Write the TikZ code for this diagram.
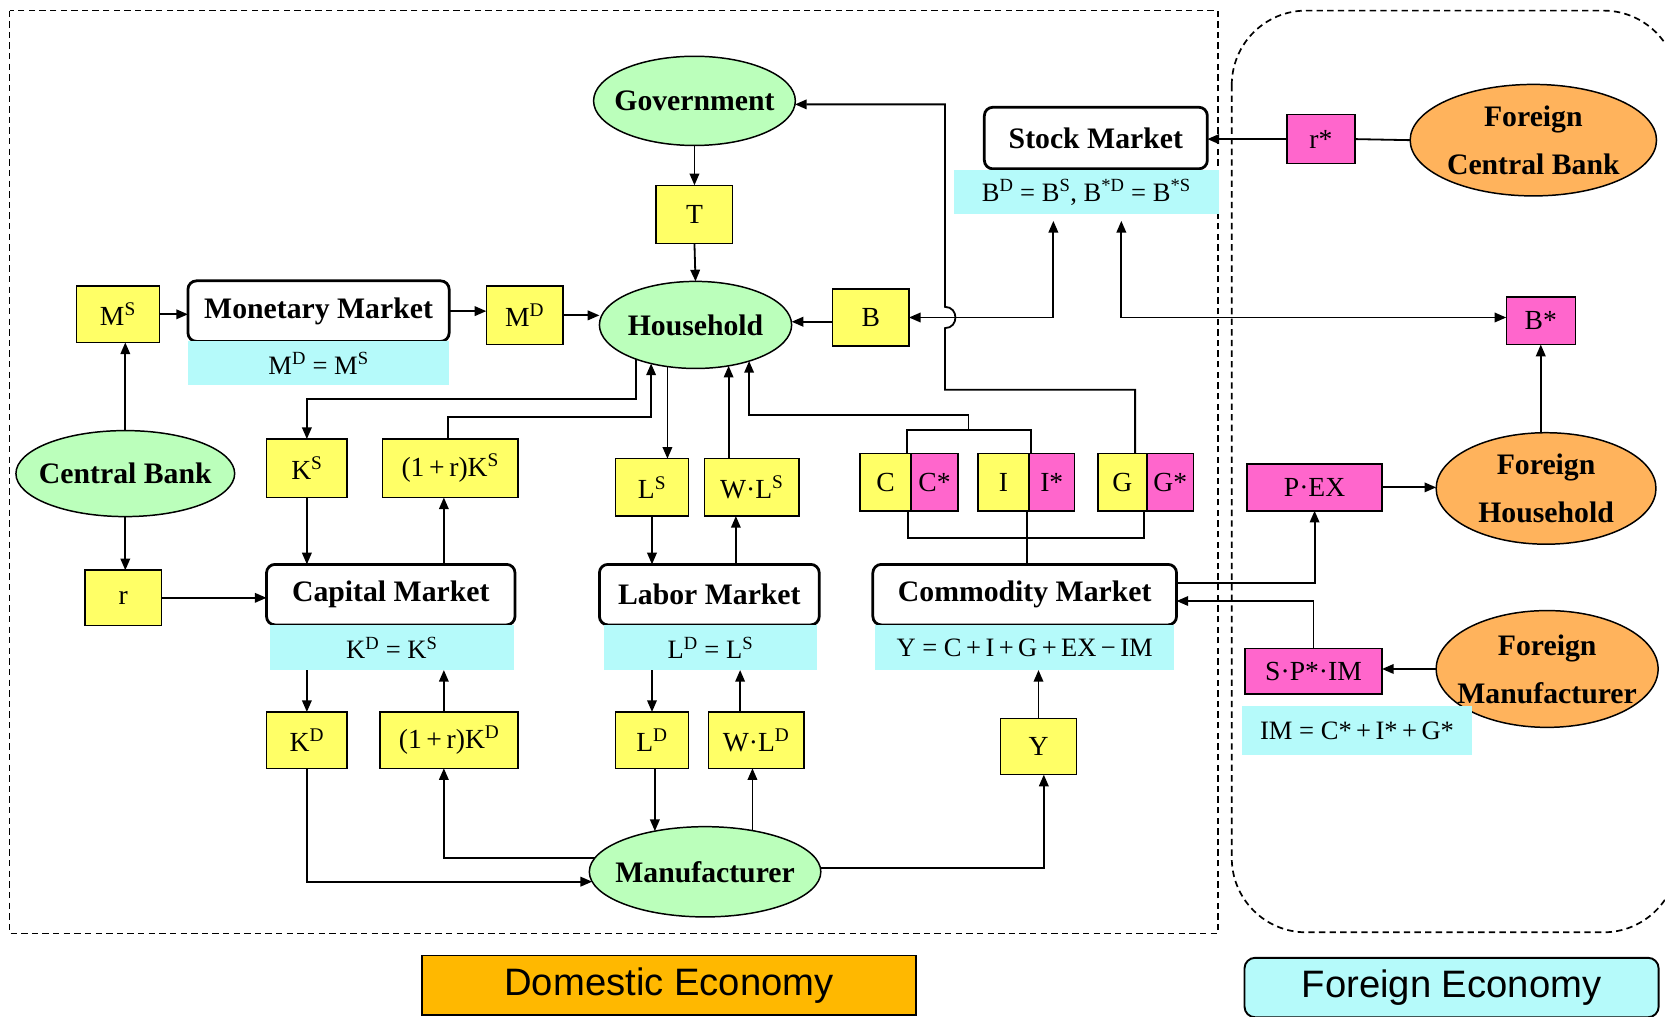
\documentclass[tikz,border=0pt]{standalone}
\usepackage{fontspec}
\setmainfont{Liberation Serif}
\newfontfamily\econfont{Liberation Sans}
\usetikzlibrary{arrows.meta,shapes.geometric}
\definecolor{yel}{HTML}{FFFF66}
\definecolor{pnk}{HTML}{FF66CC}
\definecolor{grn}{HTML}{BBFFBB}
\definecolor{org}{HTML}{FFB35C}
\definecolor{cyn}{HTML}{B5FAFA}
\definecolor{domorg}{HTML}{FFB800}
\begin{document}
\begin{tikzpicture}[x=1pt,y=-1pt,
  wh/.style 2 args={minimum width=#1pt,minimum height=#2pt},
  base/.style={inner sep=0pt,outer sep=0pt,align=center},
  ybox/.style={base,draw,fill=yel,line width=1.4pt,font=\fontsize{26}{28}\selectfont},
  pbox/.style={ybox,fill=pnk},
  mkt/.style={base,draw,fill=white,line width=2.6pt,rounded corners=8pt,font=\fontsize{28}{30}\selectfont\bfseries},
  eqlab/.style={base,fill=cyn,font=\fontsize{25}{27}\selectfont},
  etext/.style={inner sep=0pt,font=\fontsize{28}{30}\selectfont\bfseries},
  etexttwo/.style={inner sep=0pt,align=center,font=\fontsize{28}{45}\selectfont\bfseries},
  gell/.style={ellipse,draw,fill=grn,line width=1.4pt,inner sep=0pt,outer sep=0pt},
  oell/.style={gell,fill=org},
  ln/.style={line width=1.7pt},
  arr/.style={ln,-{Triangle[length=11pt,width=9pt]}},
  arrb/.style={ln,{Triangle[length=11pt,width=9pt]}-{Triangle[length=11pt,width=9pt]}},
  dashbox/.style={line width=1.6pt,dash pattern=on 6pt off 4pt},
]
\useasboundingbox (0,0) rectangle (1568,957);
\draw[dashbox] (9,10) rectangle (1147,879);
\draw[dashbox,rounded corners=70pt] (1160,10) rectangle (1580,878);

% ---- nodes ----
\node[gell,wh={190}{84},label={[etext]center:Government}] (gov) at (654,95) {};
\node[ybox,wh={72}{55}] (T) at (654,202) {T};
\node[gell,wh={181}{82},label={[etext]center:Household}] (hh) at (655,306) {};
\node[ybox,wh={78}{53}] (MS) at (111,296) {M\textsuperscript{S}};
\node[mkt,wh={246}{57}] (mm) at (300,293) {Monetary Market};
\node[eqlab,wh={245}{42}] (mmlab) at (300,342) {M\textsuperscript{D} = M\textsuperscript{S}};
\node[ybox,wh={72}{55}] (MD) at (494,297) {M\textsuperscript{D}};
\node[ybox,wh={72}{54}] (B) at (820,299) {B};
\node[mkt,wh={210}{58}] (stock) at (1032,130) {Stock Market};
\node[eqlab,wh={250}{42}] (bdlab) at (1023,181) {B\textsuperscript{D} = B\textsuperscript{S}, B\textsuperscript{*D} = B\textsuperscript{*S}};
\node[pbox,wh={64}{46}] (rs) at (1244,131) {r*};
\node[oell,wh={232}{105},label={[etexttwo]center:{Foreign\\Central Bank}}] (fcb) at (1444,132) {};
\node[pbox,wh={65}{45}] (Bs) at (1451,302) {B*};
\node[gell,wh={206}{81},label={[etext]center:Central Bank}] (cb) at (118,446) {};
\node[ybox,wh={72}{52}] (r) at (116,563) {r};
\node[ybox,wh={76}{55}] (KS) at (289,441) {K\textsuperscript{S}};
\node[ybox,wh={128}{55}] (KS1) at (424,441) {(1\,+\,r)K\textsuperscript{S}};
\node[ybox,wh={69}{54}] (LS) at (614,459) {L\textsuperscript{S}};
\node[ybox,wh={89}{54}] (WLS) at (708,459) {W·L\textsuperscript{S}};
\node[ybox,wh={48}{54}] (C) at (834,454) {C};
\node[pbox,wh={44}{54}] (Cs) at (880,454) {C*};
\node[ybox,wh={48}{54}] (I) at (945,454) {I};
\node[pbox,wh={43}{54}] (Is) at (990.5,454) {I*};
\node[ybox,wh={46}{54}] (G) at (1057,454) {G};
\node[pbox,wh={44}{54}] (Gs) at (1102,454) {G*};
\node[pbox,wh={127}{44}] (pex) at (1238,459) {P·EX};
\node[oell,wh={207}{105},label={[etexttwo]center:{Foreign\\Household}}] (fhh) at (1456,460) {};
\node[mkt,wh={234}{57}] (cap) at (368,560) {Capital Market};
\node[eqlab,wh={230}{42}] (kdlab) at (369,610) {K\textsuperscript{D} = K\textsuperscript{S}};
\node[mkt,wh={207}{57}] (labor) at (668,560) {Labor Market};
\node[eqlab,wh={200}{42}] (ldlab) at (669,610) {L\textsuperscript{D} = L\textsuperscript{S}};
\node[mkt,wh={286}{57}] (comm) at (965,560) {Commodity Market};
\node[eqlab,wh={282}{42}] (ylab) at (965,610) {Y = C\,+\,I\,+\,G\,+\,EX\,−\,IM};
\node[pbox,wh={129}{43}] (spim) at (1237,632) {S·P*·IM};
\node[oell,wh={209}{110},label={[etexttwo]center:{Foreign\\Manufacturer}}] (fm) at (1457,630) {};
\node[eqlab,wh={216}{46}] (imlab) at (1278,688) {IM = C*\,+\,I*\,+\,G*};
\node[ybox,wh={76}{53}] (KD) at (289,697) {K\textsuperscript{D}};
\node[ybox,wh={130}{53}] (KD1) at (423,697) {(1\,+\,r)K\textsuperscript{D}};
\node[ybox,wh={69}{53}] (LD) at (614,697) {L\textsuperscript{D}};
\node[ybox,wh={90}{53}] (WLD) at (712,697) {W·L\textsuperscript{D}};
\node[ybox,wh={72}{53}] (Y) at (978,703) {Y};
\node[gell,wh={218}{85},label={[etext]center:Manufacturer}] (man) at (664,821) {};
\node[base,draw,fill=domorg,line width=1.4pt,wh={465}{56},font=\econfont\fontsize{36}{40}\selectfont] (dom) at (630,928) {Domestic Economy};
\node[base,draw,fill=cyn,rounded corners=10pt,line width=1.8pt,wh={390}{56},font=\econfont\fontsize{36}{40}\selectfont] (forg) at (1367,930) {Foreign Economy};

% ---- connectors ----
\draw[arr] (gov.south) -- (T.north);
\draw[arr] (T.south) -- (hh.north);
\draw[arr] (MS.east) -- (MS.east -| mm.west);
\draw[arr] (mm.east) -- (mm.east -| MD.west);
\draw[arr] (MD.east) -- (MD.east -| hh.west);
\draw[arr] ([yshift=-4pt]B.west) -- ([yshift=-4pt]B.west -| hh.east);
\draw[arrb] (B.east) -| ([xshift=-31pt,yshift=-6pt]bdlab.south);
\draw[arrb] ([xshift=33pt,yshift=-6pt]bdlab.south) |- ([yshift=3pt]Bs.west);

\coordinate (gturn) at (890,367);
\draw[arr] ([xshift=-11pt]G.north east) |- (gturn) -- (890,309)
   .. controls (903,309) and (903,289) .. (890,289) |- (gov.358);

\draw[ln] (fcb.west) -- (rs.east);
\draw[arr] (rs.west) -- (rs.west -| stock.east);
\draw[arr] (Bs.south |- fhh.north) -- (Bs.south);
\draw[arr] (pex.east) -- (pex.east -| fhh.west);
\draw[arr] (fm.west) -- (fm.west -| spim.east);

\draw[arr] (cb.north) -- (cb.north |- MS.south);
\draw[arr] (cb.south) -- (cb.south |- r.north);
\draw[arr] (r.east) -- (r.east -| cap.west);

\draw[arr] (hh.210) |- ([yshift=38pt]KS.north) -- (KS.north);
\draw[arr] ([xshift=-2pt]KS1.north) -- ([xshift=-2pt,yshift=21pt]KS1.north) -| (hh.221);
\draw[arr] (hh.236) -- (hh.236 |- LS.north);
\draw[arr] (hh.309 |- WLS.north) -- (hh.309);

\coordinate (ciMid) at (912,405);
\draw[ln] ([xshift=-4pt]C.north east) |- (ciMid) -| ([xshift=2pt]I.north east);
\draw[arr] (ciMid) -- ++(0,-14) -| (hh.326);

\coordinate (cgMid) at (967,507);
\draw[ln] ([xshift=-3pt]C.south east) |- (cgMid) -| ([xshift=-3pt]G.south east);
\draw[ln] ([xshift=-2pt]I.south east) -- ([xshift=-2pt]I.south east |- comm.north);

\draw[arr] (KS.south) -- (KS.south |- cap.north);
\draw[arr] ([xshift=-6pt]KS1.south |- cap.north) -- ([xshift=-6pt]KS1.south);
\draw[arr] (LS.south) -- (LS.south |- labor.north);
\draw[arr] ([xshift=-15pt]WLS.south |- labor.north) -- ([xshift=-15pt]WLS.south);
\draw[arr] (KD.north |- kdlab.south) -- (KD.north);
\draw[arr] ([xshift=-5pt]KD1.north) -- ([xshift=-5pt]KD1.north |- kdlab.south);
\draw[arr] (LD.north |- ldlab.south) -- (LD.north);
\draw[arr] ([xshift=-15pt]WLD.north) -- ([xshift=-15pt]WLD.north |- ldlab.south);
\draw[arr] (Y.north) -- (Y.north |- ylab.south);

\draw[arr] (man.141 |- LD.south) -- (man.141);
\draw[arr] (man.41) -- (man.41 |- WLD.south);
\draw[arr] (KD.south) |- (man.185);
\draw[arr] (man.173) -| ([xshift=-5pt]KD1.south);
\draw[arr] (man.2) -| ([xshift=5pt]Y.south);

\draw[arr] ([yshift=11pt]comm.east) -| (pex.south);
\draw[arr] (spim.north) |- ([yshift=-6pt]comm.east);
\end{tikzpicture}
\end{document}
